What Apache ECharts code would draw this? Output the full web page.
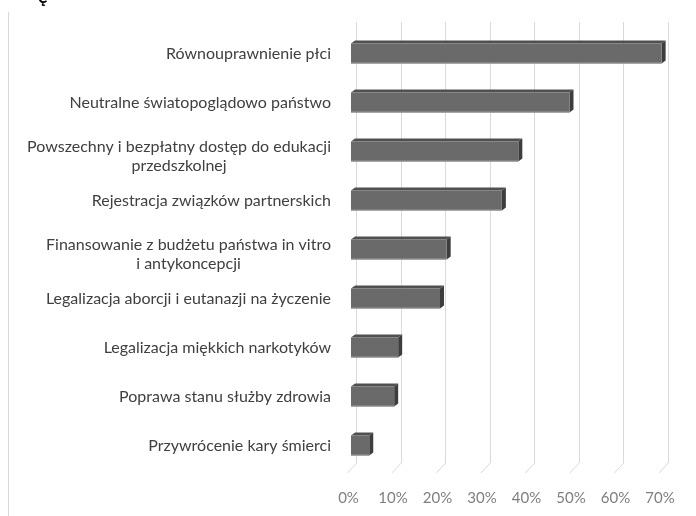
<!DOCTYPE html>
<html>
<head>
<meta charset="utf-8">
<script src="https://cdn.jsdelivr.net/npm/echarts@6/dist/echarts.min.js"></script>
<style>html,body{margin:0;padding:0;background:#fff;}#c{width:696px;height:516px;}</style>
</head>
<body>
<div id="c"></div>
<script>
const categories = [
  'Równouprawnienie płci',
  'Neutralne światopoglądowo państwo',
  'Powszechny i bezpłatny dostęp do edukacji\nprzedszkolnej',
  'Rejestracja związków partnerskich',
  'Finansowanie z budżetu państwa in vitro\ni antykoncepcji',
  'Legalizacja aborcji i eutanazji na życzenie',
  'Legalizacja miękkich narkotyków',
  'Poprawa stanu służby zdrowia',
  'Przywrócenie kary śmierci'
];
const values = [0.698, 0.491, 0.376, 0.339, 0.215, 0.200, 0.106, 0.097, 0.041];
const tickValues = [0, 0.1, 0.2, 0.3, 0.4, 0.5, 0.6, 0.7];

const FONT = 'Lato';
const chart = echarts.init(document.getElementById('c'), null, {renderer: 'canvas'});

function renderBar(params, api) {
  const v = api.value(0), c = api.value(1);
  const p0 = api.coord([0, c]), p1 = api.coord([v, c]);
  const h = 20, dx = 4, dy = 3;
  const x0 = p0[0], x1 = p1[0], yc = p0[1];
  const yt = yc - h / 2, yb = yc + h / 2;
  return {type: 'group', children: [
    {type: 'polygon', shape: {points: [[x0, yt], [x0 + dx, yt - dy], [x1 + dx, yt - dy], [x1, yt]]}, style: {fill: '#505050'}},
    {type: 'polygon', shape: {points: [[x1, yt], [x1 + dx, yt - dy], [x1 + dx, yb - dy], [x1, yb]]}, style: {fill: '#3d3d3d'}},
    {type: 'rect', shape: {x: x0, y: yt, width: x1 - x0, height: h}, style: {fill: '#6a6a6a'}},
    {type: 'line', shape: {x1: x0, y1: yb - 0.5, x2: x1, y2: yb - 0.5}, style: {stroke: '#9a9a9a', lineWidth: 1}}
  ]};
}

function renderFloor(params, api) {
  const t = api.value(0);
  const p = api.coord([t, 0]);
  const cs = params.coordSys;
  const yb = cs.y + cs.height;
  return {type: 'line', shape: {x1: p[0], y1: yb, x2: p[0] - 9.3, y2: yb + 10}, style: {stroke: '#d9d9d9', lineWidth: 1}};
}

function fmtLabel(v) {
  const lines = v.split('\n');
  const body = lines.map(s => '{c|' + s + '}').join('\n');
  if (lines.length === 1) return body;
  return '{s| }\n' + body;
}

const option = {
  backgroundColor: '#fff',
  animation: false,
  grid: [
    {left: 351, top: 29, width: 311.5, height: 441},
    {left: 356.7, top: 22, width: 311.5, height: 441}
  ],
  xAxis: [
    {type: 'value', gridIndex: 0, min: 0, max: 0.7, interval: 0.1,
     axisLine: {show: false}, axisTick: {show: false}, splitLine: {show: false},
     axisLabel: {formatter: v => Math.round(v * 100) + '%', color: '#7f7f7f', fontSize: 15, fontFamily: FONT, margin: 21, padding: [0, 5, 0, 0]}},
    {type: 'value', gridIndex: 1, min: 0, max: 0.7, interval: 0.1,
     axisLine: {show: false}, axisTick: {show: false}, axisLabel: {show: false},
     splitLine: {show: true, lineStyle: {color: '#d9d9d9', width: 1}}}
  ],
  yAxis: [
    {type: 'category', gridIndex: 0, inverse: true, data: categories,
     axisLine: {show: false}, axisTick: {show: false},
     axisLabel: {
       margin: 20, color: '#404040', fontSize: 16, fontFamily: FONT,
       formatter: fmtLabel,
       rich: {
         c: {align: 'center', fontSize: 16, fontFamily: FONT, color: '#404040', lineHeight: 19},
         s: {fontSize: 2, lineHeight: 10}
       }
     }},
    {type: 'value', gridIndex: 1, min: 0, max: 1, show: false}
  ],
  series: [
    {type: 'custom', xAxisIndex: 1, yAxisIndex: 1, renderItem: renderFloor,
     data: tickValues.map(t => [t, 0]), silent: true, z: 1},
    {type: 'custom', xAxisIndex: 0, yAxisIndex: 0, renderItem: renderBar,
     encode: {x: 0, y: 1},
     data: values.map((v, i) => [v, i]), z: 5}
  ],
  graphic: [
    {type: 'line', shape: {x1: 8.5, y1: 12, x2: 8.5, y2: 516}, style: {stroke: '#d9d9d9', lineWidth: 1}},
    {type: 'text', x: 38, y: 6, style: {text: 'ę', fontSize: 18, fontFamily: FONT, fontWeight: 'bold', fill: '#000', textVerticalAlign: 'bottom'}}
  ]
};
chart.setOption(option);
</script>
</body>
</html>
